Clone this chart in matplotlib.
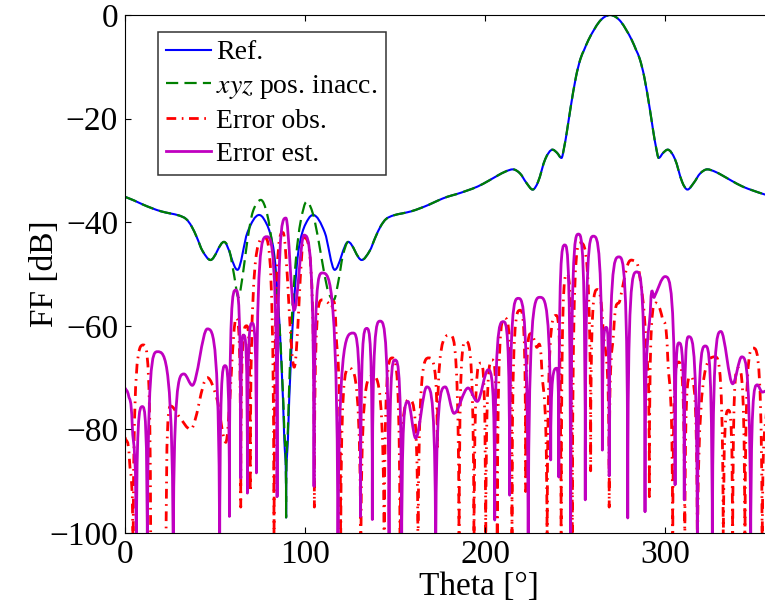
import numpy as np
import matplotlib
matplotlib.use("Agg")
import matplotlib.pyplot as plt
from matplotlib.path import Path
from matplotlib.patches import PathPatch
from matplotlib.lines import Line2D

plt.rcParams['font.family'] = ['Liberation Serif', 'DejaVu Serif']
plt.rcParams['mathtext.fontset'] = 'stix'
plt.rcParams['axes.unicode_minus'] = True

# ---- far-field cuts (theta in degrees, level in dB) ----
ref_theta = [0, 5, 10, 15, 20, 25, 30, 34, 37, 40, 43, 47.5, 55, 62.5, 68, 74.5, 77,
             80.5, 83, 85, 87, 88.5, 89.5, 90.5, 92, 94, 96, 98.5, 102, 104.5, 111,
             116.5, 124, 131.5, 136, 139, 142, 145, 149, 154, 159, 164, 169, 174, 179,
             184, 190, 196, 202, 207, 211.5, 215.5, 219.5, 223, 226.5, 229.5, 233.5,
             237.5, 240, 242.5, 244, 245.5, 247.5, 250.5, 253, 255, 257.5, 260.5, 263.5,
             266.5, 269.5, 272.5, 275.5, 278.5, 281.5, 284, 286, 288.5, 291.5, 293.5,
             295, 296.5, 299, 301.5, 305.5, 309.5, 312.5, 316, 319.5, 323.5, 327.5,
             332, 337, 343, 349, 355, 360]
ref_db = [-35.1, -35.8, -36.6, -37.3, -37.9, -38.3, -38.7, -39.4, -40.8, -43.0, -45.5,
          -47.3, -43.8, -49.2, -42.0, -38.6, -39.3, -42.0, -46.5, -55.0, -68.0, -82.0,
          -97.0, -82.0, -68.0, -55.0, -46.5, -42.0, -39.3, -38.6, -42.0, -49.2, -43.8,
          -47.3, -45.5, -43.0, -40.8, -39.4, -38.7, -38.3, -37.9, -37.3, -36.6, -35.8,
          -35.1, -34.6, -33.9, -33.1, -32.0, -31.0, -30.2, -29.8, -30.6, -32.4, -33.7,
          -32.2, -27.8, -26.0, -26.6, -27.6, -25.5, -22.5, -18.0, -12.0, -8.5, -6.8,
          -4.8, -2.9, -1.3, -0.35, 0.0, -0.35, -1.3, -2.9, -4.8, -6.8, -8.5, -12.0,
          -18.0, -22.5, -25.5, -27.6, -26.6, -26.0, -27.8, -32.2, -33.7, -32.4, -30.6,
          -29.8, -30.2, -31.0, -32.0, -33.1, -33.9, -34.6, -35.1]

# xyz position inaccuracy: differs from the reference only around broadside
pos_mid_theta = [58, 60.5, 63, 65.5, 68, 71, 75.5, 79, 82, 84.5, 86.5, 88.5, 89.5, 90.5,
                 92.5, 95, 97.5, 101, 104.5, 107.5, 110.5, 113, 116, 118.5, 121]
pos_mid_db = [-45.5, -50.0, -54.5, -50.0, -43.5, -38.0, -35.7, -38.5, -45.0, -54.0,
              -64.0, -80.0, -97.0, -80.0, -60.0, -47.0, -40.0, -36.0, -38.5, -43.5,
              -49.5, -53.5, -55.0, -51.5, -46.5]

obs_theta = [0, 2.5, 4.5, 10.2, 14.3, 18.5, 22.8, 25.5, 30, 36.5, 45.7, 51, 56, 61.7,
             64.3, 67.5, 69.6, 77.5, 82.8, 87.8, 94, 99.4, 105.2, 109.5, 114.5, 117.2,
             119.8, 124.5, 131, 137.5, 144, 148.5, 152.8, 158, 162.8, 168.8, 173.5,
             180.5, 185.6, 189.3, 193.9, 197.6, 200.4, 204.1, 206.8, 211, 215, 219.5,
             222.6, 225.5, 228.5, 231.5, 234.5, 239.5, 242.3, 245.5, 248.5, 253, 258.7,
             262.4, 265.5, 269, 271.5, 275, 279.5, 283.5, 286, 289.5, 291.3, 295, 298.5,
             301.5, 304.3, 307.5, 311, 314, 318, 327.8, 332.4, 335.2, 337.6, 340.7,
             344.4, 349, 354, 356.5, 360]
obs_db = [-81.5, -86, -110, -63.7, -110, -104, -110, -75.5, -77.5, -80, -70, -74,
          -82.5, -58.5, -95, -60, -92, -43, -110, -42, -68, -43, -95, -55, -56.5, -60.5,
          -110, -68.2, -110, -69.7, -110, -66.2, -110, -74.3, -110, -66.2, -84, -61.8,
          -110, -63, -110, -67.2, -110, -66.6, -110, -58.5, -100, -57, -92, -61.5, -64,
          -68, -110, -58, -110, -50, -110, -44, -88, -53, -60, -95, -61, -55, -48,
          -47.5, -50.5, -64, -93, -55.6, -58.5, -66, -110, -67, -110, -69.8, -110, -66,
          -110, -76.3, -110, -68.2, -110, -64.3, -110, -76, -72]

est_theta = [0, 2, 4, 6.3, 9.6, 12.4, 18, 26.8, 32.8, 37.4, 45.7, 52.6, 55.6, 58, 61.5,
             64.3, 65.9, 68, 70.6, 73, 78.7, 84.5, 89.4, 94, 99.4, 105, 109.6, 118.3,
             126.7, 130.9, 134.3, 137.4, 141.7, 146.7, 150, 153.7, 157.2, 161.5, 167.6,
             172.6, 178, 182.8, 190.6, 195.7, 201.7, 205.4, 210.2, 213.7, 218.5, 224,
             230.5, 236.5, 239.8, 241, 244.3, 247.6, 251.9, 255.7, 260.2, 265.2, 267.3,
             269, 274.4, 279.3, 284.3, 288.9, 292, 294, 300, 305.6, 307.8, 310.7, 313.2,
             318, 322.4, 326.3, 331.1, 337.6, 342.6, 347.6, 351.3, 354, 357, 360]
est_db = [-72, -73.5, -79, -110, -75.6, -110, -65, -110, -69.3, -71.5, -60.6, -110,
          -67.7, -96.8, -53.1, -89.4, -61.8, -92.3, -59.5, -88.4, -42.8, -93, -39.2, -57,
          -42.5, -91, -49.8, -110, -61.4, -96.8, -60.5, -97.4, -59.1, -110, -66.6, -110,
          -74.6, -81.7, -71.8, -110, -71.8, -76.9, -72, -74.6, -68.5, -97.5, -59.2,
          -92.7, -54.7, -110, -54.5, -85.9, -68.2, -89.2, -44.4, -110, -42.3, -93.6,
          -42.7, -84, -60.3, -89, -46.7, -97.1, -49.6, -95.9, -56, -54.5, -50.5, -90.7,
          -63.3, -93.6, -62.1, -110, -63.9, -110, -61.1, -71.2, -66, -110, -71.4, -72.8,
          -72.4, -72]

x_ticks = [0, 100, 200, 300]
y_ticks = [-100, -80, -60, -40, -20, 0]
legend_labels = ['Ref.', '$xyz$ pos. inacc.', 'Error obs.', 'Error est.']


def lobe_path(theta, db, sharp=-83.0):
    """Smooth Bezier path through the given points: rounded peaks and
    shallow valleys, cusp-like deep nulls."""
    x = np.asarray(theta, float)
    y = np.asarray(db, float)
    n = len(x)
    kind = ['free'] * n
    slope = np.zeros(n)
    for i in range(n):
        if 0 < i < n - 1:
            if y[i] < y[i - 1] and y[i] < y[i + 1]:
                kind[i] = 'null' if y[i] <= sharp else 'flat'
            elif y[i] > y[i - 1] and y[i] > y[i + 1]:
                kind[i] = 'flat'
            else:
                slope[i] = (y[i + 1] - y[i - 1]) / (x[i + 1] - x[i - 1])
        elif i == 0:
            slope[i] = (y[1] - y[0]) / (x[1] - x[0])
        else:
            slope[i] = (y[-1] - y[-2]) / (x[-1] - x[-2])
    verts = [(x[0], y[0])]
    codes = [Path.MOVETO]
    for i in range(n - 1):
        x0, y0, x1, y1 = x[i], y[i], x[i + 1], y[i + 1]
        dx = x1 - x0
        k0, k1 = kind[i], kind[i + 1]
        if k0 == 'null':
            c1 = (x0, y1)
        elif k0 == 'flat':
            c1 = (x0 + (0.5 if k1 == 'null' else 1 / 3) * dx, y0)
        else:
            c1 = (x0 + dx / 3, y0 + slope[i] * dx / 3)
        if k1 == 'null':
            c2 = (x1, y0)
        elif k1 == 'flat':
            c2 = (x1 - (0.5 if k0 == 'null' else 1 / 3) * dx, y1)
        else:
            c2 = (x1 - dx / 3, y1 - slope[i + 1] * dx / 3)
        verts += [c1, c2, (x1, y1)]
        codes += [Path.CURVE4] * 3
    return Path(verts, codes)


# xyz curve = reference outside the broadside region + its own samples there
ref_t = np.asarray(ref_theta)
ref_v = np.asarray(ref_db)
keep = (ref_t <= 56) | (ref_t >= 124)
pos_theta = np.concatenate([ref_t[keep], pos_mid_theta])
pos_db = np.concatenate([ref_v[keep], pos_mid_db])
order = np.argsort(pos_theta)
pos_theta, pos_db = pos_theta[order], pos_db[order]

styles = [
    dict(color='#0000FF', lw=1.5, ls='-'),
    dict(color='#008000', lw=1.6, ls=(0, (5.5, 2.8))),
    dict(color='#FF0000', lw=2.0, ls=(0, (3.5, 2.0, 0.6, 2.0))),
    dict(color='#C000C0', lw=2.0, ls='-'),
]
series = [(ref_theta, ref_db), (pos_theta, pos_db), (obs_theta, obs_db), (est_theta, est_db)]

fig = plt.figure(figsize=(7.65, 6.12), dpi=100)
ax = fig.add_axes([125 / 765, 79 / 612, 648 / 765, 518 / 612])

for (th, lv), st in zip(series, styles):
    ax.add_patch(PathPatch(lobe_path(th, lv), fill=False, edgecolor=st['color'],
                           lw=st['lw'], linestyle=st['ls'], joinstyle='round',
                           capstyle='butt'))

ax.set_xlim(0, 360)
ax.set_ylim(-100, 0)
ax.set_xticks(x_ticks)
ax.set_yticks(y_ticks)
ax.tick_params(direction='in', top=True, right=True, length=4.3, width=0.8,
               labelsize=24, pad=5)
for sp in ax.spines.values():
    sp.set_linewidth(0.8)

ax.set_xlabel('Theta [°]', fontsize=24)
ax.set_ylabel('FF [dB]', fontsize=24)
ax.xaxis.set_label_coords((479 - 125) / 648, -0.075)
ax.yaxis.set_label_coords((60 - 125) / 648, 0.5)

handles = [Line2D([], [], color=st['color'], lw=st['lw'], ls=st['ls']) for st in styles]
leg = ax.legend(handles, legend_labels, loc='upper left',
                bbox_to_anchor=((158 - 125) / 648, (533 - 31.5) / 518),
                borderaxespad=0, fontsize=20, frameon=True, fancybox=False,
                handlelength=1.6, handletextpad=0.2, labelspacing=0.27,
                borderpad=0.3)
leg.get_frame().set_edgecolor('black')
leg.get_frame().set_linewidth(1.1)

fig.savefig('out.png', dpi=100)
